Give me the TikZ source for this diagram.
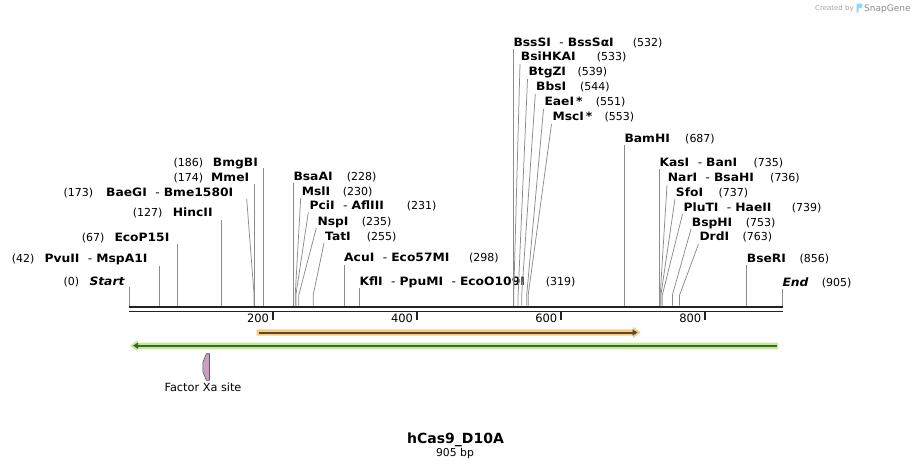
\documentclass[tikz,border=0pt]{standalone}
\usepackage{fontspec}
\setmainfont{DejaVu Sans}
\newfontfamily\namefont[FakeStretch=1.07]{DejaVu Sans}
\usetikzlibrary{arrows.meta}
\definecolor{orfill}{HTML}{FBC97A}
\definecolor{ordark}{HTML}{55473A}
\definecolor{grfill}{HTML}{BCF08E}
\definecolor{grdark}{HTML}{4B5E43}
\definecolor{xapink}{HTML}{C9A0BE}
\definecolor{cutgray}{HTML}{8C8C8C}
\definecolor{bardark}{HTML}{222222}
\newcommand\sepd{\hspace{8.5pt}{\mdseries -}\hspace{4pt}}
\begin{document}
\begin{tikzpicture}[x=1pt,y=-1pt,
  nm/.style={font=\namefont\bfseries\fontsize{11.5}{13}\selectfont, inner sep=0pt, anchor=base west},
  nmi/.style={font=\namefont\bfseries\itshape\fontsize{11.5}{13}\selectfont, inner sep=0pt, anchor=base west},
  num/.style={font=\fontsize{11}{13}\selectfont, inner sep=0pt, anchor=base west},
  cutl/.style={draw=cutgray, line width=0.75pt},
  tick/.style={draw=bardark, line width=2pt},
  ticklab/.style={font=\fontsize{11.5}{13}\selectfont, inner sep=0pt, anchor=base east}]
\useasboundingbox[fill=white] (0,0) rectangle (912,469);

% watermark
\node[font=\fontsize{7}{8}\selectfont, text=black!35, inner sep=0pt, anchor=base west] (wm1) at (815,10.5) {Created by};
\fill[cyan!45] (856.5,3.5) -- (861.5,3.5) .. controls (863,3.5) and (863,8) .. (861,8) -- (858.5,8) -- (858.5,12.5) -- (856.5,12.5) -- cycle;
\node[font=\fontsize{9}{10}\selectfont, text=black!45, inner sep=0pt, anchor=base west] (wm2) at (864,11) {SnapGene};

% sequence bar
\coordinate (bs) at (129.3,306.7);
\coordinate (be) at (782.5,306.7);
\coordinate (bs2) at (129.3,311.3);
\coordinate (be2) at (782.5,311.3);
\draw[draw=bardark, line width=2.3pt] (bs) -- (be);
\draw[draw=bardark, line width=1.6pt] (bs2) -- (be2);

% ticks
\foreach \x/\l in {272.7/200, 416.7/400, 561/600, 705/800}{
  \draw[tick] (\x,312.3) -- (\x,319.5);
  \node[ticklab] at (\x-3.5,322.5) {\l};
}

% orange feature
\fill[orfill] (256.7,329.3) -- (633,329.3) -- (633,326.7) -- (640.7,332.5) -- (633,338.3) -- (633,335.7) -- (256.7,335.7) -- cycle;
\draw[draw=ordark, line width=2pt, -{Triangle[length=5pt,width=6pt]}] (258.5,332.5) -- (637.5,332.5);

% green feature
\fill[grfill] (778,342.5) -- (137.7,342.5) -- (137.7,340) -- (130,345.7) -- (137.7,351.2) -- (137.7,349) -- (778,349) -- cycle;
\draw[draw=grdark, line width=2.2pt, -{Triangle[length=5pt,width=6pt]}] (776.5,345.7) -- (133,345.7);

% Factor Xa site
\filldraw[fill=xapink, draw=black!65, line width=0.6pt] (209.5,353.7) -- (209.5,380.3) -- (206.3,380.3) -- (202.8,371.5) -- (202.8,362.5) -- (206.3,353.7) -- cycle;
\node[font=\fontsize{11.3}{13}\selectfont, inner sep=0pt, anchor=base] (fxa) at (203,391) {Factor Xa site};

% title
\node[font=\bfseries\fontsize{14}{16}\selectfont, inner sep=0pt, anchor=base] (title) at (455.5,443.3) {hCas9\_D10A};
\node[font=\fontsize{10.8}{12}\selectfont, inner sep=0pt, anchor=base] (len) at (455,456) {905 bp};

% ---------- left labels ----------
\node[num] (m1) at (63.3,285.5) {(0)};
\node[nmi] (n1) at (89.3,285.5) {Start};
\coordinate (t1) at (129.3,287); \coordinate (s1) at (129.3,305.5);
\draw[cutl] (t1) -- (s1);

\node[num] (m2) at (11.7,262.5) {(42)};
\node[nm] (n2) at (44.3,262.5) {PvuII\sepd MspA1I};
\coordinate (t2) at (159.6,266); \coordinate (s2) at (159.6,305.5);
\draw[cutl] (t2) -- (s2);

\node[num] (m3) at (81.7,241) {(67)};
\node[nm] (n3) at (114.3,241) {EcoP15I};
\coordinate (t3) at (177.6,243.5); \coordinate (s3) at (177.6,305.5);
\draw[cutl] (t3) -- (s3);

\node[num] (m4) at (132.7,216.7) {(127)};
\node[nm] (n4) at (172.7,216.7) {HincII};
\coordinate (t4) at (220.9,220); \coordinate (s4) at (220.9,305.5);
\draw[cutl] (t4) -- (s4);

\node[num] (m5) at (63.3,196) {(173)};
\node[nm] (n5) at (106,196) {BaeGI\sepd Bme1580I};
\coordinate (t5) at (246.7,199); \coordinate (k5) at (254.1,295); \coordinate (s5) at (254.1,305.5);
\draw[cutl] (t5) -- (k5) -- (s5);

\node[num] (m6) at (173.3,181) {(174)};
\node[nm] (n6) at (211,181) {MmeI};
\coordinate (t6) at (254.8,183.5); \coordinate (s6) at (254.8,305.5);
\draw[cutl] (t6) -- (s6);

\node[num] (m7) at (173.3,166.5) {(186)};
\node[nm] (n7) at (212.7,166.5) {BmgBI};
\coordinate (t7) at (263.5,168); \coordinate (s7) at (263.5,305.5);
\draw[cutl] (t7) -- (s7);

% ---------- 228-319 ----------
\node[nm] (n8) at (293.3,180) {BsaAI};
\node[num] (m8) at (346.7,180) {(228)};
\coordinate (t8) at (293.8,183); \coordinate (s8) at (293.8,305.5);
\draw[cutl] (t8) -- (s8);

\node[nm] (n9) at (301.7,195) {MslI};
\node[num] (m9) at (342.7,195) {(230)};
\coordinate (t9) at (300.7,198); \coordinate (k9) at (295.2,295); \coordinate (s9) at (295.2,305.5);
\draw[cutl] (t9) -- (k9) -- (s9);

\node[nm] (n10) at (309.3,209.5) {PciI\sepd AflIII};
\node[num] (m10) at (406.7,209.5) {(231)};
\coordinate (t10) at (308.3,212.5); \coordinate (k10) at (295.9,295); \coordinate (s10) at (295.9,305.5);
\draw[cutl] (t10) -- (k10) -- (s10);

\node[nm] (n11) at (317.3,225) {NspI};
\node[num] (m11) at (361.7,225) {(235)};
\coordinate (t11) at (316.3,228); \coordinate (k11) at (298.8,295); \coordinate (s11) at (298.8,305.5);
\draw[cutl] (t11) -- (k11) -- (s11);

\node[nm] (n12) at (325,240) {TatI};
\node[num] (m12) at (366.7,240) {(255)};
\coordinate (t12) at (324,243); \coordinate (k12) at (313.2,295); \coordinate (s12) at (313.2,305.5);
\draw[cutl] (t12) -- (k12) -- (s12);

\node[nm] (n13) at (344,261.7) {AcuI\sepd Eco57MI};
\node[num] (m13) at (469,261.7) {(298)};
\coordinate (t13) at (344.2,265); \coordinate (s13) at (344.2,305.5);
\draw[cutl] (t13) -- (s13);

\node[nm] (n14) at (359.3,285) {KflI\sepd PpuMI\sepd EcoO109I};
\node[num] (m14) at (545.7,285) {(319)};
\coordinate (t14) at (359.4,288); \coordinate (s14) at (359.4,305.5);
\draw[cutl] (t14) -- (s14);

% ---------- 532-687 ----------
\node[nm] (n15) at (513.3,46) {BssSI\sepd BssSαI};
\node[num] (m15) at (632.7,46) {(532)};
\coordinate (t15) at (513.0,49); \coordinate (s15) at (513.0,305.5);
\draw[cutl] (t15) -- (s15);

\node[nm] (n16) at (520.7,60.5) {BsiHKAI};
\node[num] (m16) at (596.7,60.5) {(533)};
\coordinate (t16) at (520,64); \coordinate (k16) at (513.7,295); \coordinate (s16) at (513.7,305.5);
\draw[cutl] (t16) -- (k16) -- (s16);

\node[nm] (n17) at (528.3,75.5) {BtgZI};
\node[num] (m17) at (577.3,75.5) {(539)};
\coordinate (t17) at (527.5,79); \coordinate (k17) at (518.1,295); \coordinate (s17) at (518.1,305.5);
\draw[cutl] (t17) -- (k17) -- (s17);

\node[nm] (n18) at (536,90.5) {BbsI};
\node[num] (m18) at (580,90.5) {(544)};
\coordinate (t18) at (535.3,94); \coordinate (k18) at (521.7,295); \coordinate (s18) at (521.7,305.5);
\draw[cutl] (t18) -- (k18) -- (s18);

\node[nm] (n19) at (544.3,105.5) {EaeI\,*};
\node[num] (m19) at (595.7,105.5) {(551)};
\coordinate (t19) at (543.5,109); \coordinate (k19) at (526.7,295); \coordinate (s19) at (526.7,305.5);
\draw[cutl] (t19) -- (k19) -- (s19);

\node[nm] (n20) at (552.3,120.5) {MscI\,*};
\node[num] (m20) at (604.3,120.5) {(553)};
\coordinate (t20) at (551.5,124); \coordinate (k20) at (528.2,295); \coordinate (s20) at (528.2,305.5);
\draw[cutl] (t20) -- (k20) -- (s20);

\node[nm] (n21) at (624.3,142) {BamHI};
\node[num] (m21) at (685,142) {(687)};
\coordinate (t21) at (624.8,145); \coordinate (s21) at (624.8,305.5);
\draw[cutl] (t21) -- (s21);

% ---------- 735-905 ----------
\node[nm] (n22) at (659.3,166) {KasI\sepd BanI};
\node[num] (m22) at (753.3,166) {(735)};
\coordinate (t22) at (659.5,169); \coordinate (s22) at (659.5,305.5);
\draw[cutl] (t22) -- (s22);

\node[nm] (n23) at (667.7,181.5) {NarI\sepd BsaHI};
\node[num] (m23) at (770,181.5) {(736)};
\coordinate (t23) at (667,185); \coordinate (k23) at (660.2,295); \coordinate (s23) at (660.2,305.5);
\draw[cutl] (t23) -- (k23) -- (s23);

\node[nm] (n24) at (675.7,196) {SfoI};
\node[num] (m24) at (718.3,196) {(737)};
\coordinate (t24) at (675,199); \coordinate (k24) at (660.9,295); \coordinate (s24) at (660.9,305.5);
\draw[cutl] (t24) -- (k24) -- (s24);

\node[nm] (n25) at (683.3,211) {PluTI\sepd HaeII};
\node[num] (m25) at (791.7,211) {(739)};
\coordinate (t25) at (682.5,214); \coordinate (k25) at (662.3,295); \coordinate (s25) at (662.3,305.5);
\draw[cutl] (t25) -- (k25) -- (s25);

\node[nm] (n26) at (691.7,226) {BspHI};
\node[num] (m26) at (745.7,226) {(753)};
\coordinate (t26) at (691,229); \coordinate (k26) at (672.4,295); \coordinate (s26) at (672.4,305.5);
\draw[cutl] (t26) -- (k26) -- (s26);

\node[nm] (n27) at (699.3,240.7) {DrdI};
\node[num] (m27) at (742.3,240.7) {(763)};
\coordinate (t27) at (698.5,244); \coordinate (k27) at (679.6,295); \coordinate (s27) at (679.6,305.5);
\draw[cutl] (t27) -- (k27) -- (s27);

\node[nm] (n28) at (746.7,262.5) {BseRI};
\node[num] (m28) at (799.3,262.5) {(856)};
\coordinate (t28) at (746.7,265); \coordinate (s28) at (746.7,305.5);
\draw[cutl] (t28) -- (s28);

\node[nmi] (n29) at (782.3,286) {End};
\node[num] (m29) at (821.7,286) {(905)};
\coordinate (t29) at (782.1,289); \coordinate (s29) at (782.1,305.5);
\draw[cutl] (t29) -- (s29);
\end{tikzpicture}
\end{document}
